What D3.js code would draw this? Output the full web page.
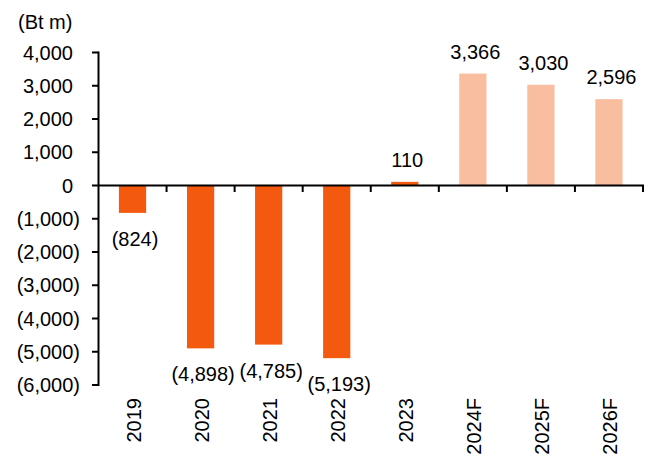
<!DOCTYPE html>
<html>
<head>
<meta charset="utf-8">
<script src="https://cdn.jsdelivr.net/npm/d3@7"></script>
<style>
  html, body { margin: 0; padding: 0; background: #fff; }
  svg { display: block; }
  text { font-family: "Liberation Sans", Arial, sans-serif; fill: #000; }
</style>
</head>
<body>
<svg id="chart" width="652" height="459"></svg>
<script>
const categories = ["2019", "2020", "2021", "2022", "2023", "2024F", "2025F", "2026F"];
const values = [-824, -4898, -4785, -5193, 110, 3366, 3030, 2596];
const forecast = [false, false, false, false, false, true, true, true];
const yTicks = [4000, 3000, 2000, 1000, 0, -1000, -2000, -3000, -4000, -5000, -6000];
const unitLabel = "(Bt m)";

(function () {
const svg = d3.select("#chart");
const mLeft = 98.5, mRight = 643, mTop = 52.5, mBottom = 385;
const fontSize = 20;

const x = d3.scaleBand().domain(categories).range([mLeft, mRight]).paddingInner(0.6).paddingOuter(0.3);
const y = d3.scaleLinear().domain([-6000, 4000]).range([mBottom, mTop]);

const fmt = v => v < 0 ? "(" + d3.format(",")(-v) + ")" : d3.format(",")(v);

// bars
svg.append("g").selectAll("rect").data(values).join("rect")
  .attr("x", (d, i) => x(categories[i]))
  .attr("width", x.bandwidth())
  .attr("y", d => y(Math.max(0, d)))
  .attr("height", d => Math.abs(y(d) - y(0)))
  .attr("fill", (d, i) => forecast[i] ? "#F9BD9F" : "#F45A0F");

// y axis
const yAxis = svg.append("g");
yAxis.append("line").attr("x1", mLeft).attr("x2", mLeft).attr("y1", mTop - 1).attr("y2", mBottom + 1)
  .attr("stroke", "#000").attr("stroke-width", 2);
yAxis.selectAll(".tick").data(yTicks).join("line")
  .attr("x1", mLeft - 6.5).attr("x2", mLeft).attr("y1", d => y(d)).attr("y2", d => y(d))
  .attr("stroke", "#000").attr("stroke-width", 2);
yAxis.selectAll("text").data(yTicks).join("text")
  .attr("x", d => d < 0 ? 80 : 73)
  .attr("y", d => y(d))
  .attr("dy", "0.36em")
  .attr("text-anchor", "end")
  .attr("font-size", fontSize)
  .text(fmt);

// zero line with category boundary ticks
const xAxis = svg.append("g");
xAxis.append("line").attr("x1", mLeft).attr("x2", mRight + 1).attr("y1", y(0)).attr("y2", y(0))
  .attr("stroke", "#000").attr("stroke-width", 2);
const step = x.step();
const bounds = d3.range(categories.length + 1).map(i => mLeft + i * step);
xAxis.selectAll(".b").data(bounds.slice(1)).join("line")
  .attr("x1", d => d).attr("x2", d => d)
  .attr("y1", y(0)).attr("y2", y(0) + 6.5)
  .attr("stroke", "#000").attr("stroke-width", 2);

// category labels
svg.append("g").selectAll("text").data(categories).join("text")
  .attr("transform", d => `translate(${x(d) + x.bandwidth() / 2 + 8},398) rotate(-90)`)
  .attr("text-anchor", "end")
  .attr("font-size", fontSize)
  .text(d => d);

// value labels
svg.append("g").selectAll("text").data(values).join("text")
  .attr("x", (d, i) => x(categories[i]) + x.bandwidth() / 2 + 2.5)
  .attr("y", d => d < 0 ? y(d) + 33 : y(d) - 15)
  .attr("text-anchor", "middle")
  .attr("font-size", fontSize)
  .text(fmt);

// unit label
svg.append("text").attr("x", 18).attr("y", 29).attr("font-size", fontSize).text(unitLabel);
})();
</script>
</body>
</html>
